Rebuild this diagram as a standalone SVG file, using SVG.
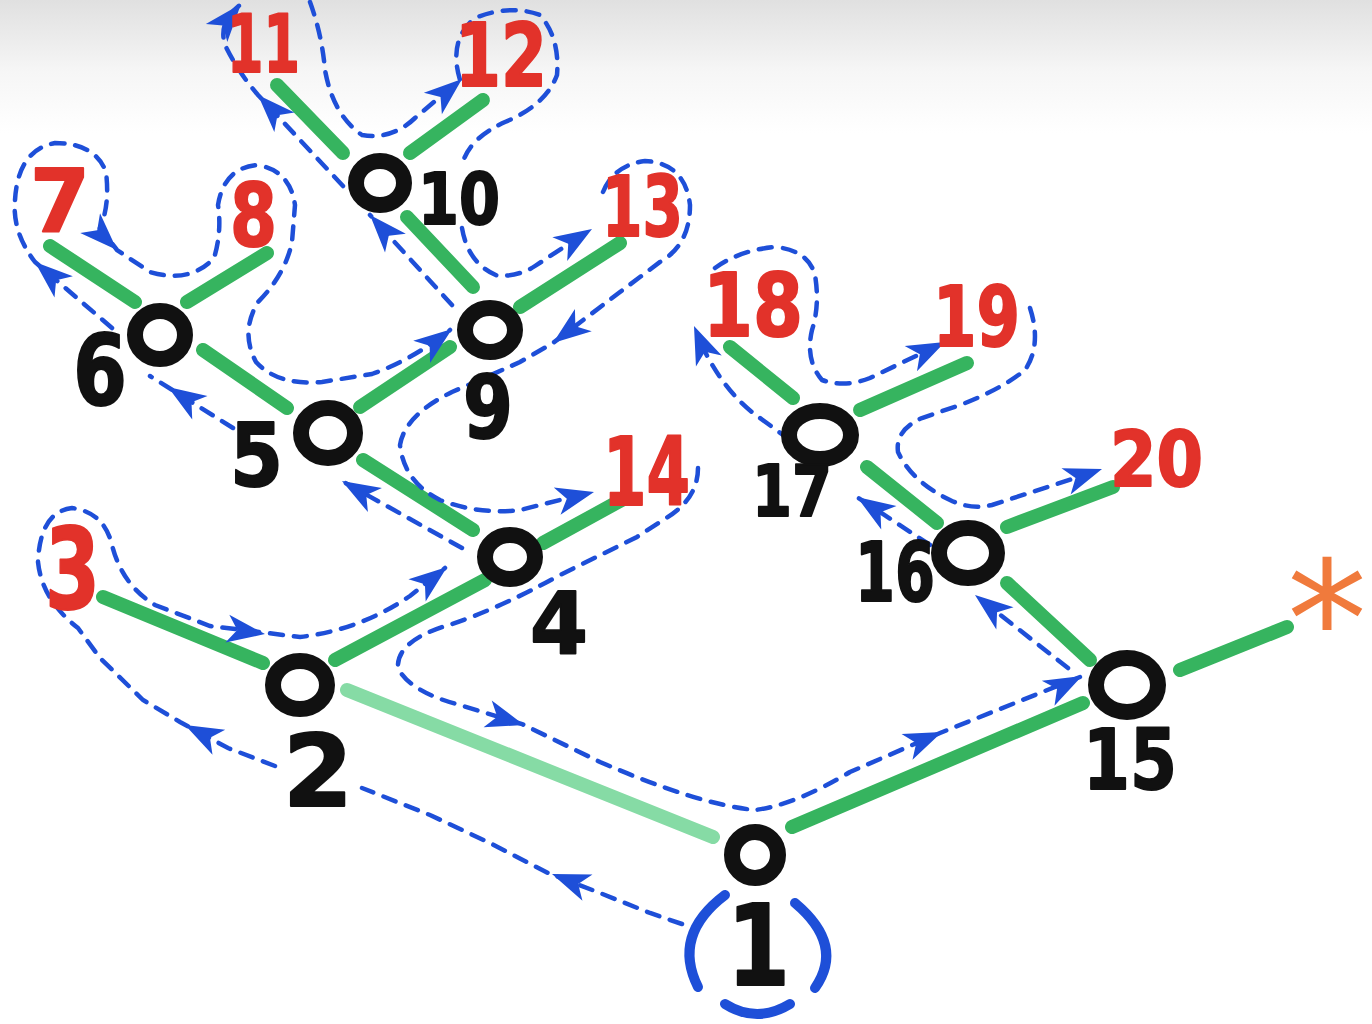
<svg xmlns="http://www.w3.org/2000/svg" xmlns:xlink="http://www.w3.org/1999/xlink" width="1372" height="1024" viewBox="0 0 1372 1024">
<defs>
<linearGradient id="bg" x1="0" y1="0" x2="0" y2="1">
<stop offset="0" stop-color="#e0e0e0"/>
<stop offset="0.07" stop-color="#f6f6f6"/>
<stop offset="0.13" stop-color="#ffffff"/>
<stop offset="1" stop-color="#ffffff"/>
</linearGradient>
<path id="ah" d="M0,0 L-38,-14 L-28,0 L-38,14 Z"/>
<style>
.edge{stroke:#36b45f;stroke-width:14;stroke-linecap:round;fill:none}
.edge.pale{stroke:#86dba5}
.trav{stroke:#1e4fd8;stroke-width:4.5;stroke-dasharray:13 11;stroke-linecap:round;fill:none}
.paren{stroke:#1e4fd8;stroke-width:10;stroke-linecap:round;fill:none}
.ahd{fill:#1e4fd8}
.ring{fill:none;stroke:#111;stroke-width:16}
.lbl{font-family:"DejaVu Sans","Liberation Sans",sans-serif;font-weight:bold;fill:#111;stroke:#111;stroke-width:2;stroke-linejoin:round}
.leaf{font-family:"DejaVu Sans","Liberation Sans",sans-serif;font-weight:bold;fill:#e2322a;stroke:#e2322a;stroke-width:2;stroke-linejoin:round}
.star{font-family:"DejaVu Sans","Liberation Sans",sans-serif;fill:#f07a3c}
</style>
</defs>
<rect x="0" y="0" width="1372" height="1024" fill="url(#bg)"/>
<g id="connectors">
<g id="edges">
<line class="edge pale" x1="347" y1="690" x2="713" y2="837"/>
<line class="edge" x1="792" y1="827" x2="1083" y2="703"/>
<line class="edge" x1="335" y1="660" x2="485" y2="580"/>
<line class="edge" x1="103" y1="597" x2="263" y2="663"/>
<line class="edge" x1="363" y1="460" x2="473" y2="530"/>
<line class="edge" x1="543" y1="543" x2="627" y2="497"/>
<line class="edge" x1="360" y1="407" x2="450" y2="347"/>
<line class="edge" x1="203" y1="350" x2="287" y2="408"/>
<line class="edge" x1="50" y1="246" x2="135" y2="302"/>
<line class="edge" x1="267" y1="253" x2="187" y2="302"/>
<line class="edge" x1="407" y1="217" x2="473" y2="287"/>
<line class="edge" x1="520" y1="307" x2="620" y2="243"/>
<line class="edge" x1="277" y1="85" x2="343" y2="153"/>
<line class="edge" x1="483" y1="100" x2="410" y2="153"/>
<line class="edge" x1="1007" y1="583" x2="1090" y2="660"/>
<line class="edge" x1="1007" y1="527" x2="1113" y2="487"/>
<line class="edge" x1="1180" y1="670" x2="1287" y2="627"/>
<line class="edge" x1="867" y1="467" x2="937" y2="523"/>
<line class="edge" x1="730" y1="347" x2="793" y2="398"/>
<line class="edge" x1="860" y1="410" x2="967" y2="363"/>
</g>
<g id="traversal">
<path class="trav" d="M 682,924 L 650,913 L 600,893 L 548,873 L 490,843 L 430,815 L 362,788 M 275,766 L 228,748 L 180,722 L 143,700 L 100,658 L 78,628 Q 42,600 38,562 Q 40,512 72,508 Q 104,512 112,545 Q 122,585 155,605 L 210,626 L 300,637 Q 360,630 410,596 L 445,568"/>
<path class="trav" d="M 462,548 L 342,481 M 233,428 L 150,376 M 112,328 L 35,262 Q 12,232 15,200 Q 18,150 55,143 Q 95,143 106,172 Q 110,205 100,228 L 117,250 L 150,272 Q 190,284 214,258 Q 222,232 218,205 Q 224,168 257,165 Q 290,170 295,205 L 292,242 Q 285,275 258,302 Q 240,332 256,362 Q 278,386 322,382 L 372,374 Q 412,360 450,330"/>
<path class="trav" d="M 452,305 L 370,215 M 343,186 L 258,95 Q 238,72 225,45 Q 218,22 240,5 M 310,2 Q 322,35 325,70 Q 333,115 362,135 Q 392,140 415,118 L 460,80 Q 448,40 475,18 Q 510,4 540,15 Q 560,38 557,75 Q 546,105 505,122 Q 470,138 463,162 M 462,228 Q 468,264 498,276 Q 520,276 535,266 L 590,230 M 603,192 Q 614,165 645,161 Q 685,163 690,205 Q 690,245 660,262 L 620,292 L 553,343 L 520,362 Q 480,380 452,392 Q 405,415 400,445 Q 404,482 440,500 Q 480,515 520,510 L 592,492"/>
<path class="trav" d="M 698,468 Q 698,500 663,520 L 637,537 L 560,575 Q 500,608 452,624 Q 396,640 398,668 Q 410,692 460,705 L 522,724 L 600,762 Q 700,805 755,810 Q 795,805 850,772 L 940,733 L 1080,677"/>
<path class="trav" d="M 1068,668 L 975,595 M 930,545 L 857,497 M 790,440 L 760,418 Q 722,392 697,335 M 715,268 Q 740,250 775,247 Q 808,250 815,275 Q 820,305 812,330 Q 805,360 822,380 Q 845,388 870,378 L 943,343 M 1030,308 Q 1042,345 1025,370 Q 1000,390 960,405 L 922,418 Q 895,430 898,452 Q 912,482 950,500 Q 970,510 992,505 L 1100,470"/>
<g class="ahd">
<use href="#ah" transform="translate(552,874) rotate(201)"/>
<use href="#ah" transform="translate(185,725) rotate(207)"/>
<use href="#ah" transform="translate(265,634) rotate(8)"/>
<use href="#ah" transform="translate(447,567) rotate(-38)"/>
<use href="#ah" transform="translate(342,481) rotate(210)"/>
<use href="#ah" transform="translate(168,387) rotate(213)"/>
<use href="#ah" transform="translate(35,262) rotate(221)"/>
<use href="#ah" transform="translate(117,250) rotate(45)"/>
<use href="#ah" transform="translate(452,329) rotate(-37)"/>
<use href="#ah" transform="translate(370,215) rotate(228)"/>
<use href="#ah" transform="translate(258,95) rotate(226)"/>
<use href="#ah" transform="translate(241,4) rotate(-50)"/>
<use href="#ah" transform="translate(462,79) rotate(-40)"/>
<use href="#ah" transform="translate(592,229) rotate(-32)"/>
<use href="#ah" transform="translate(553,343) rotate(143)"/>
<use href="#ah" transform="translate(594,492) rotate(-14)"/>
<use href="#ah" transform="translate(524,725) rotate(17)"/>
<use href="#ah" transform="translate(942,732) rotate(-23)"/>
<use href="#ah" transform="translate(1082,676) rotate(-27)"/>
<use href="#ah" transform="translate(975,595) rotate(218)"/>
<use href="#ah" transform="translate(857,497) rotate(213)"/>
<use href="#ah" transform="translate(694,326) rotate(247)"/>
<use href="#ah" transform="translate(945,342) rotate(-26)"/>
<use href="#ah" transform="translate(1102,469) rotate(-19)"/>
</g>
</g>
</g>
<g id="node1">
<ellipse class="ring" cx="755" cy="855" rx="23" ry="23"/>
<path class="paren" d="M 725,895 Q 672,935 698,987"/>
<path class="paren" d="M 795,903 Q 845,945 815,988"/>
<path class="paren" d="M 725,1004 Q 757,1024 790,1004"/>
<text class="lbl" x="727" y="985" font-size="112" textLength="63" lengthAdjust="spacingAndGlyphs">1</text>
</g>
<g id="node2">
<ellipse class="ring" cx="300" cy="685" rx="27" ry="24"/>
<text class="lbl" x="283" y="806" font-size="100" textLength="70" lengthAdjust="spacingAndGlyphs">2</text>
</g>
<g id="node3">
<text class="leaf" x="45" y="608" font-size="112" textLength="55" lengthAdjust="spacingAndGlyphs">3</text>
</g>
<g id="node4">
<ellipse class="ring" cx="510" cy="557" rx="25" ry="22"/>
<text class="lbl" x="530" y="653" font-size="86" textLength="58" lengthAdjust="spacingAndGlyphs">4</text>
</g>
<g id="node5">
<ellipse class="ring" cx="328" cy="433" rx="27" ry="25"/>
<text class="lbl" x="230" y="486" font-size="88" textLength="53" lengthAdjust="spacingAndGlyphs">5</text>
</g>
<g id="node6">
<ellipse class="ring" cx="160" cy="335" rx="25" ry="24"/>
<text class="lbl" x="73" y="405" font-size="98" textLength="54" lengthAdjust="spacingAndGlyphs">6</text>
</g>
<g id="node7">
<text class="leaf" x="30" y="232" font-size="88" textLength="60" lengthAdjust="spacingAndGlyphs">7</text>
</g>
<g id="node8">
<text class="leaf" x="230" y="246" font-size="88" textLength="47" lengthAdjust="spacingAndGlyphs">8</text>
</g>
<g id="node9">
<ellipse class="ring" cx="490" cy="330" rx="25" ry="22"/>
<text class="lbl" x="463" y="438" font-size="88" textLength="50" lengthAdjust="spacingAndGlyphs">9</text>
</g>
<g id="node10">
<ellipse class="ring" cx="380" cy="183" rx="24" ry="22"/>
<text class="lbl" x="418" y="224" font-size="72" textLength="82" lengthAdjust="spacingAndGlyphs">10</text>
</g>
<g id="node11">
<text class="leaf" x="227" y="72" font-size="80" textLength="73" lengthAdjust="spacingAndGlyphs">11</text>
</g>
<g id="node12">
<text class="leaf" x="455" y="86" font-size="88" textLength="92" lengthAdjust="spacingAndGlyphs">12</text>
</g>
<g id="node13">
<text class="leaf" x="602" y="236" font-size="84" textLength="81" lengthAdjust="spacingAndGlyphs">13</text>
</g>
<g id="node14">
<text class="leaf" x="603" y="505" font-size="94" textLength="87" lengthAdjust="spacingAndGlyphs">14</text>
</g>
<g id="node15">
<ellipse class="ring" cx="1127" cy="685" rx="31" ry="27"/>
<text class="lbl" x="1083" y="789" font-size="84" textLength="94" lengthAdjust="spacingAndGlyphs">15</text>
</g>
<g id="node16">
<ellipse class="ring" cx="968" cy="553" rx="29" ry="25"/>
<text class="lbl" x="855" y="601" font-size="82" textLength="80" lengthAdjust="spacingAndGlyphs">16</text>
</g>
<g id="node17">
<ellipse class="ring" cx="820" cy="435" rx="31" ry="24"/>
<text class="lbl" x="752" y="516" font-size="72" textLength="80" lengthAdjust="spacingAndGlyphs">17</text>
</g>
<g id="node18">
<text class="leaf" x="703" y="336" font-size="88" textLength="100" lengthAdjust="spacingAndGlyphs">18</text>
</g>
<g id="node19">
<text class="leaf" x="933" y="346" font-size="84" textLength="87" lengthAdjust="spacingAndGlyphs">19</text>
</g>
<g id="node20">
<text class="leaf" x="1110" y="486" font-size="76" textLength="93" lengthAdjust="spacingAndGlyphs">20</text>
</g>
<g id="nodeStar">
<text class="star" x="1327" y="676" font-size="160" text-anchor="middle">*</text>
</g>
</svg>
